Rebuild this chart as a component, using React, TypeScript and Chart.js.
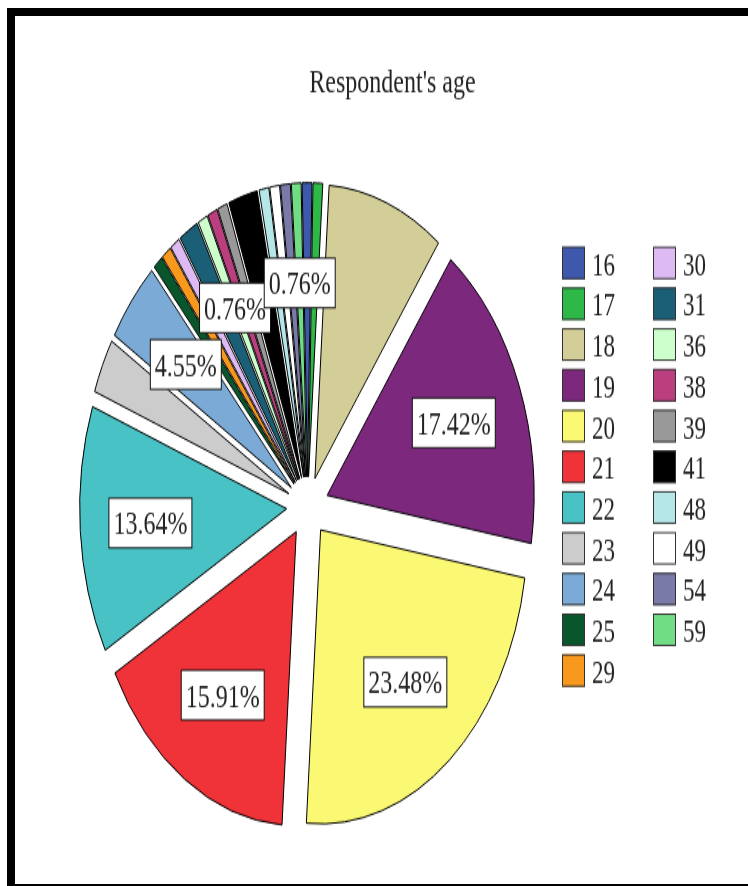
import React, { useEffect, useRef } from 'react';
import { Chart, registerables } from 'chart.js';

Chart.register(...registerables);

const chartTitle = "Respondent's age";
const ages = ['16', '17', '18', '19', '20', '21', '22', '23', '24', '25', '29', '30', '31', '36', '38', '39', '41', '48', '49', '54', '59'];
const counts = [1, 1, 12, 23, 31, 21, 18, 4, 6, 1, 1, 1, 2, 1, 1, 1, 3, 1, 1, 1, 1];
const colors = [
  '#3E58AC', '#2EB848', '#D3CE97', '#7C287D', '#FBF873', '#EF3338', '#48C2C5',
  '#CCCCCC', '#7AAAD5', '#0A562C', '#F8981D', '#DDBAF1', '#1A5F76', '#CCFFCC',
  '#BB3F7F', '#999999', '#000000', '#B6E7E8', '#FFFFFF', '#797AA7', '#70DC84',
];
const labelledAges = ['19', '20', '21', '22', '24', '36', '59'];

const STRETCH = 1.42;
const CW = 748;
const CH = 624;
const EXPLODE = 21;
const FONT = '"Liberation Serif", "Times New Roman", serif';

export default function App() {
  const ref = useRef<HTMLCanvasElement>(null);

  useEffect(() => {
    const canvas = ref.current;
    if (!canvas) return;
    const total = counts.reduce((a, b) => a + b, 0);

    const explodePlugin = {
      id: 'explodeSlices',
      afterDatasetUpdate(chart: any, args: any) {
        for (const arc of args.meta.data) {
          const mid = (arc.startAngle + arc.endAngle) / 2;
          arc.x += Math.cos(mid) * EXPLODE;
          arc.y += Math.sin(mid) * EXPLODE;
        }
      },
    };

    const labelPlugin = {
      id: 'sliceLabels',
      afterDatasetsDraw(chart: any) {
        const ctx = chart.ctx;
        const meta = chart.getDatasetMeta(0);
        ctx.save();
        ctx.font = `24px ${FONT}`;
        meta.data.forEach((arc: any, i: number) => {
          if (!labelledAges.includes(ages[i])) return;
          const mid = (arc.startAngle + arc.endAngle) / 2;
          const r = arc.outerRadius * 0.66;
          const cx = arc.x + Math.cos(mid) * r;
          const cy = arc.y + Math.sin(mid) * r;
          const text = ((counts[i] / total) * 100).toFixed(2) + '%';
          const tw = ctx.measureText(text).width;
          const bw = tw + 9;
          const bh = 35;
          ctx.fillStyle = '#ffffff';
          ctx.fillRect(cx - bw / 2, cy - bh / 2, bw, bh);
          ctx.strokeStyle = '#111111';
          ctx.lineWidth = 1;
          ctx.strokeRect(cx - bw / 2, cy - bh / 2, bw, bh);
          ctx.fillStyle = '#222222';
          ctx.textAlign = 'center';
          ctx.textBaseline = 'alphabetic';
          ctx.fillText(text, cx, cy + 8);
        });
        ctx.restore();
      },
    };

    const textPlugin = {
      id: 'titleLegend',
      afterDraw(chart: any) {
        const ctx = chart.ctx;
        ctx.save();
        ctx.fillStyle = '#222222';
        ctx.font = `24px ${FONT}`;
        ctx.textAlign = 'center';
        ctx.textBaseline = 'alphabetic';
        ctx.fillText(chartTitle, 392.5, 64.8);

        ctx.font = `23px ${FONT}`;
        ctx.textAlign = 'left';
        const perCol = 11;
        ages.forEach((age, i) => {
          const col = i < perCol ? 0 : 1;
          const row = i < perCol ? i : i - perCol;
          const x = col === 0 ? 562 : 653;
          const y = 173.7 + row * 28.7;
          ctx.fillStyle = colors[i];
          ctx.fillRect(x, y, 23, 23);
          ctx.strokeStyle = '#333333';
          ctx.lineWidth = 1;
          ctx.strokeRect(x + 0.5, y + 0.5, 22, 22);
          ctx.fillStyle = '#222222';
          ctx.fillText(age, x + 30, y + 20);
        });
        ctx.restore();
      },
    };

    const chart = new Chart(canvas, {
      type: 'pie',
      data: {
        labels: ages,
        datasets: [
          {
            data: counts,
            backgroundColor: colors,
            borderColor: '#000000',
            borderWidth: 1,
            radius: 207,
            clip: false,
          } as any,
        ],
      },
      options: {
        responsive: false,
        animation: false,
        events: [],
        rotation: -1.5,
        layout: { padding: { left: 0, right: 132.8, top: 89.4, bottom: 0 } },
        plugins: {
          legend: { display: false },
          title: { display: false },
          tooltip: { enabled: false },
        },
      } as any,
      plugins: [explodePlugin, labelPlugin, textPlugin],
    });

    return () => chart.destroy();
  }, []);

  return (
    <div
      style={{
        position: 'fixed',
        left: 0,
        top: 0,
        width: 748,
        height: 886,
        overflow: 'hidden',
        background: '#ffffff',
      }}
    >
      <div
        style={{
          position: 'absolute',
          left: 0,
          top: 0,
          width: CW,
          height: CH,
          transform: `scaleY(${STRETCH})`,
          transformOrigin: '0 0',
        }}
      >
        <canvas ref={ref} width={CW} height={CH} style={{ display: 'block' }} />
      </div>
      <div
        style={{
          position: 'absolute',
          left: 7,
          top: 8,
          width: 820,
          height: 884,
          border: '8px solid #000',
          boxSizing: 'border-box',
          pointerEvents: 'none',
        }}
      />
    </div>
  );
}
